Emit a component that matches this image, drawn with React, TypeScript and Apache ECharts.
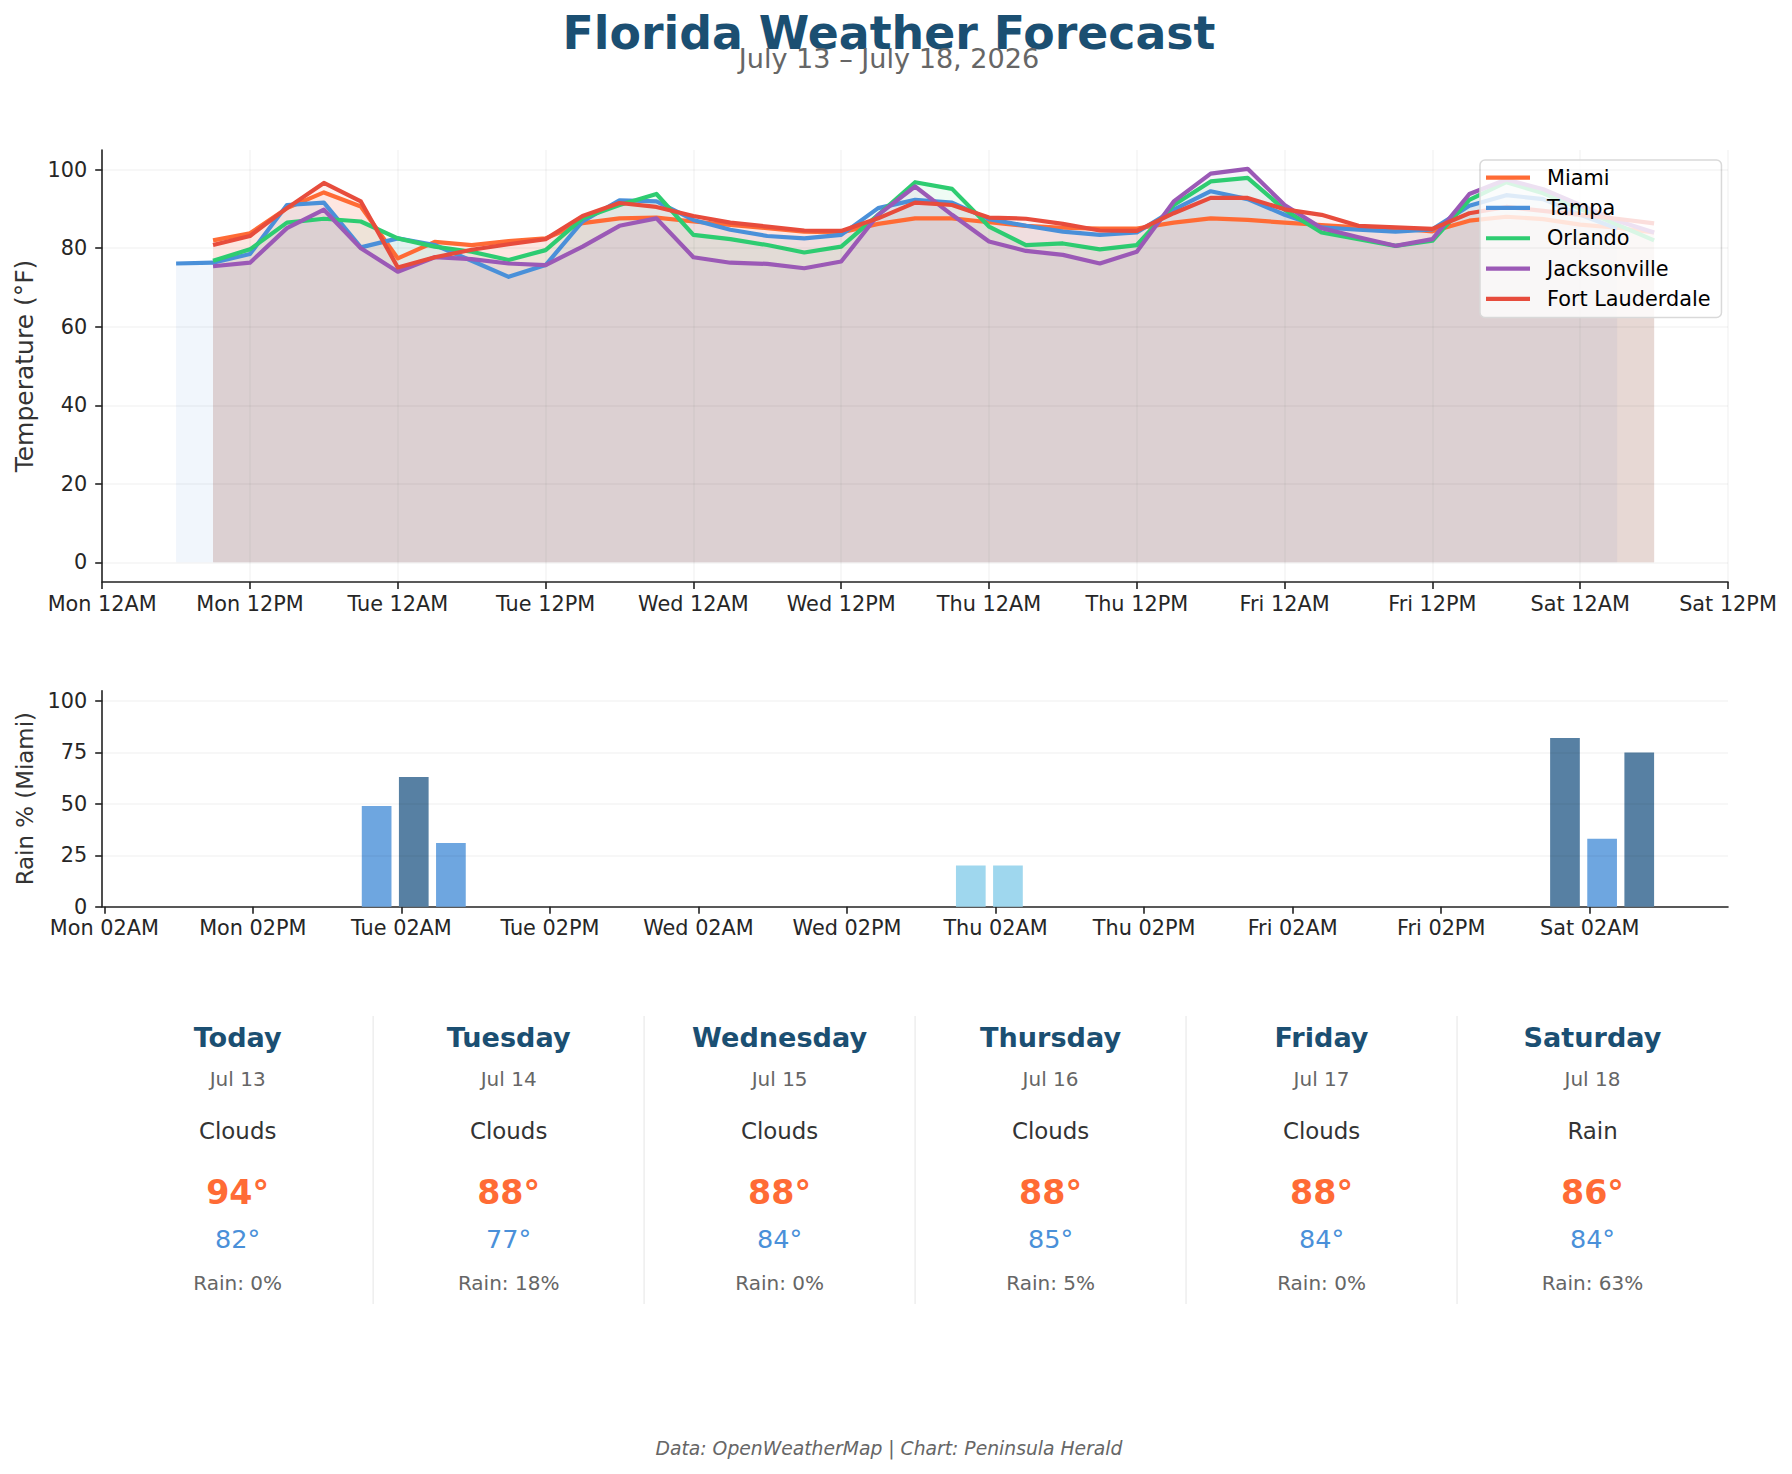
import { useEffect, useRef } from 'react';
import * as echarts from 'echarts';

const FONT = 'DejaVu Sans';

// Hours counted from Monday 12AM, 3-hour forecast steps
const cityHours = [
  9, 12, 15, 18, 21, 24, 27, 30, 33, 36, 39, 42, 45, 48, 51, 54, 57, 60, 63, 66,
  69, 72, 75, 78, 81, 84, 87, 90, 93, 96, 99, 102, 105, 108, 111, 114, 117, 120, 123, 126,
];
const tampaHours = [
  6, 9, 12, 15, 18, 21, 24, 27, 30, 33, 36, 39, 42, 45, 48, 51, 54, 57, 60, 63,
  66, 69, 72, 75, 78, 81, 84, 87, 90, 93, 96, 99, 102, 105, 108, 111, 114, 117, 120, 123,
];

const miamiTemps = [
  82.0, 83.8, 90.2, 94.2, 90.6, 77.4, 81.6, 80.8, 81.8, 82.5,
  86.4, 87.6, 87.8, 86.8, 85.9, 85.1, 84.2, 84.0, 86.2, 87.6,
  87.6, 86.6, 85.7, 85.2, 85.0, 85.0, 86.5, 87.6, 87.2, 86.5,
  85.9, 85.3, 85.1, 84.3, 87.0, 88.0, 87.4, 86.0, 85.2, 84.0,
];
const tampaTemps = [
  76.1, 76.3, 78.5, 91.0, 91.6, 80.2, 82.5, 80.8, 76.8, 72.7,
  75.7, 86.8, 92.2, 91.9, 87.2, 84.7, 83.1, 82.5, 83.4, 90.2,
  92.3, 91.6, 87.4, 85.7, 84.2, 83.4, 84.0, 89.8, 94.5, 92.5,
  88.5, 85.3, 84.7, 84.2, 84.8, 90.8, 93.5, 92.5, 88.5, 85.0,
];
const orlandoTemps = [
  76.8, 79.7, 86.5, 87.5, 86.8, 82.5, 80.4, 79.1, 77.0, 79.5,
  87.6, 91.0, 93.8, 83.4, 82.3, 80.8, 78.9, 80.4, 88.5, 96.8,
  95.1, 85.5, 80.8, 81.2, 79.7, 80.8, 91.0, 97.0, 97.9, 89.8,
  84.0, 82.3, 80.6, 81.9, 92.3, 96.8, 94.0, 90.0, 86.0, 82.0,
];
const jacksonvilleTemps = [
  75.4, 76.3, 85.1, 89.8, 80.0, 74.0, 77.7, 77.2, 76.1, 75.7,
  80.4, 85.7, 87.6, 77.7, 76.3, 76.0, 74.9, 76.6, 88.5, 95.7,
  88.5, 81.7, 79.3, 78.3, 76.1, 79.1, 91.9, 99.0, 100.2, 91.0,
  85.1, 82.8, 80.6, 82.3, 93.8, 97.5, 95.0, 91.0, 87.0, 84.0,
];
const fortLauderdaleTemps = [
  80.8, 83.1, 90.2, 96.6, 91.9, 75.1, 77.7, 79.6, 81.0, 82.3,
  88.2, 91.5, 90.5, 88.2, 86.5, 85.5, 84.5, 84.4, 87.6, 91.6,
  91.0, 87.8, 87.5, 86.2, 84.5, 84.4, 88.9, 92.8, 92.8, 89.9,
  88.5, 85.7, 85.3, 84.9, 88.9, 90.5, 89.5, 88.5, 87.5, 86.3,
];

// Miami precipitation probability (%) at the same 3-hour steps
const miamiRain = [
  0, 0, 0, 0, 0, 49, 63, 31, 0, 0,
  0, 0, 0, 0, 0, 0, 0, 0, 0, 0,
  0, 20, 20, 0, 0, 0, 0, 0, 0, 0,
  0, 0, 0, 0, 0, 0, 0, 82, 33, 75,
];

const cityNames = ['Miami', 'Tampa', 'Orlando', 'Jacksonville', 'Fort Lauderdale'];
const cityColors = ['#FF6B35', '#4A90D9', '#2ECC71', '#9B59B6', '#E74C3C'];
const citySeries = [
  { hours: cityHours, temps: miamiTemps },
  { hours: tampaHours, temps: tampaTemps },
  { hours: cityHours, temps: orlandoTemps },
  { hours: cityHours, temps: jacksonvilleTemps },
  { hours: cityHours, temps: fortLauderdaleTemps },
];

const tempTickHours = [0, 12, 24, 36, 48, 60, 72, 84, 96, 108, 120, 132];
const tempTickLabels = [
  'Mon 12AM', 'Mon 12PM', 'Tue 12AM', 'Tue 12PM', 'Wed 12AM', 'Wed 12PM',
  'Thu 12AM', 'Thu 12PM', 'Fri 12AM', 'Fri 12PM', 'Sat 12AM', 'Sat 12PM',
];
const tempYTicks = [0, 20, 40, 60, 80, 100];

const rainTickHours = [2, 14, 26, 38, 50, 62, 74, 86, 98, 110, 122];
const rainTickLabels = [
  'Mon 02AM', 'Mon 02PM', 'Tue 02AM', 'Tue 02PM', 'Wed 02AM', 'Wed 02PM',
  'Thu 02AM', 'Thu 02PM', 'Fri 02AM', 'Fri 02PM', 'Sat 02AM',
];
const rainYTicks = [0, 25, 50, 75, 100];

const dayNames = ['Today', 'Tuesday', 'Wednesday', 'Thursday', 'Friday', 'Saturday'];
const dayDates = ['Jul 13', 'Jul 14', 'Jul 15', 'Jul 16', 'Jul 17', 'Jul 18'];
const dayConditions = ['Clouds', 'Clouds', 'Clouds', 'Clouds', 'Clouds', 'Rain'];

const NAVY = '#1B4F72';
const AXIS = '#222222';
const TICK_TEXT = '#262626';
const GRID_LINE = 'rgba(0,0,0,0.045)';
const FILL_OPACITY = 0.08;

// Plot frames (px)
const PLOT_LEFT = 102.2;
const PLOT_WIDTH = 1625.8;
const TEMP_TOP = 150;
const TEMP_HEIGHT = 432;
const RAIN_TOP = 690.7;
const RAIN_HEIGHT = 216;
const BAR_HALF_SPAN = 1.2; // bar half width in hours
const RAIN_MARGIN = 0.05;

const rainColor = (v: number) => (v >= 60 ? '#5780a3' : v >= 30 ? '#6ea6e0' : '#9fd7ee');

// Daily Miami summary derived from the hourly series
function dailySummary() {
  const out: { high: number; low: number; rain: number }[] = [];
  for (let d = 0; d < dayNames.length; d++) {
    const temps: number[] = [];
    const rains: number[] = [];
    cityHours.forEach((h, i) => {
      if (Math.floor(h / 24) === d) {
        temps.push(miamiTemps[i]);
        rains.push(miamiRain[i]);
      }
    });
    const rainAvg = rains.reduce((a, b) => a + b, 0) / Math.max(rains.length, 1);
    out.push({
      high: Math.round(Math.max(...temps)),
      low: Math.round(Math.min(...temps)),
      rain: Math.round(rainAvg),
    });
  }
  return out;
}

function buildOption() {
  const axisLineStyle = { color: AXIS, width: 1.6 };
  const tickLabel = { fontSize: 20.8, color: TICK_TEXT, fontFamily: FONT };

  const rainFirst = cityHours[0] - BAR_HALF_SPAN;
  const rainLast = cityHours[cityHours.length - 1] + BAR_HALF_SPAN;
  const rainPad = (rainLast - rainFirst) * RAIN_MARGIN;

  const lineSeries = cityNames.map((name, idx) => {
    const s = citySeries[idx];
    const series: any = {
      name,
      type: 'line',
      xAxisIndex: 0,
      yAxisIndex: 0,
      data: s.hours.map((h, i) => [h, s.temps[i]]),
      showSymbol: false,
      symbol: 'none',
      color: cityColors[idx],
      lineStyle: { color: cityColors[idx], width: 4.2, join: 'round' },
      areaStyle: { color: cityColors[idx], opacity: FILL_OPACITY, origin: 'auto' },
      emphasis: { disabled: true },
      z: 3,
    };
    if (idx === 0) {
      series.markLine = {
        silent: true,
        symbol: ['none', 'none'],
        label: { show: false },
        lineStyle: { color: GRID_LINE, width: 1.6, type: 'solid' },
        data: tempYTicks.map((v) => ({ yAxis: v })),
      };
    }
    return series;
  });

  const summary = dailySummary();
  const colW = PLOT_WIDTH / dayNames.length;
  const graphics: any[] = [
    {
      type: 'text', x: 889, y: 33,
      style: { text: 'Florida Weather Forecast', fill: NAVY, fontSize: 45.8, fontWeight: 'bold', fontFamily: FONT, align: 'center', verticalAlign: 'middle' },
    },
    {
      type: 'text', x: 889, y: 58,
      style: { text: 'July 13 – July 18, 2026', fill: '#666666', fontSize: 27.1, fontFamily: FONT, align: 'center', verticalAlign: 'middle' },
    },
    {
      type: 'text', x: 889, y: 1448,
      style: { text: 'Data: OpenWeatherMap | Chart: Peninsula Herald', fill: '#666666', fontSize: 18.75, fontStyle: 'italic', fontFamily: FONT, align: 'center', verticalAlign: 'middle' },
    },
  ];
  for (let k = 1; k < dayNames.length; k++) {
    const x = PLOT_LEFT + colW * k;
    graphics.push({
      type: 'line',
      shape: { x1: x, y1: 1016, x2: x, y2: 1304 },
      style: { stroke: '#eeeeee', lineWidth: 1.5 },
    });
  }
  dayNames.forEach((name, i) => {
    const cx = PLOT_LEFT + colW * (i + 0.5);
    const rows = [
      { text: name, y: 1037, size: 27.1, color: NAVY, weight: 'bold' },
      { text: dayDates[i], y: 1078.5, size: 20, color: '#666666', weight: 'normal' },
      { text: dayConditions[i], y: 1130.5, size: 22.9, color: '#333333', weight: 'normal' },
      { text: `${summary[i].high}°`, y: 1192.5, size: 33.3, color: '#FF6B35', weight: 'bold' },
      { text: `${summary[i].low}°`, y: 1239, size: 25.5, color: '#4A90D9', weight: 'normal' },
      { text: `Rain: ${summary[i].rain}%`, y: 1283, size: 20, color: '#666666', weight: 'normal' },
    ];
    rows.forEach((r) => {
      graphics.push({
        type: 'text', x: cx, y: r.y,
        style: { text: r.text, fill: r.color, fontSize: r.size, fontWeight: r.weight, fontFamily: FONT, align: 'center', verticalAlign: 'middle' },
      });
    });
  });

  return {
    animation: false,
    backgroundColor: '#ffffff',
    textStyle: { fontFamily: FONT },
    grid: [
      { left: PLOT_LEFT, top: TEMP_TOP, width: PLOT_WIDTH, height: TEMP_HEIGHT, containLabel: false, outerBoundsMode: 'none' },
      { left: PLOT_LEFT, top: RAIN_TOP, width: PLOT_WIDTH, height: RAIN_HEIGHT, containLabel: false, outerBoundsMode: 'none' },
    ],
    legend: {
      data: cityNames,
      orient: 'vertical',
      left: 1480,
      top: 160,
      padding: [6, 11, 7, 6],
      itemGap: 7,
      itemWidth: 44,
      itemHeight: 4.2,
      icon: 'rect',
      backgroundColor: 'rgba(255,255,255,0.82)',
      borderColor: '#d9d9d9',
      borderWidth: 1.5,
      borderRadius: 5,
      selectedMode: false,
      textStyle: { fontSize: 20.8, color: '#000000', fontFamily: FONT, lineHeight: 23.3, padding: [0, 0, 0, 12] },
    },
    xAxis: [
      {
        type: 'value', gridIndex: 0, min: 0, max: 132, interval: 12,
        axisLine: { show: true, onZero: false, lineStyle: axisLineStyle },
        axisTick: { show: true, length: 7, lineStyle: axisLineStyle },
        axisLabel: {
          ...tickLabel, margin: 11, showMinLabel: true, showMaxLabel: true,
          formatter: (v: number) => tempTickLabels[tempTickHours.indexOf(v)] ?? '',
        },
        splitLine: { show: true, lineStyle: { color: GRID_LINE, width: 1.6 } },
      },
      {
        type: 'value', gridIndex: 1, min: rainFirst - rainPad, max: rainLast + rainPad,
        axisLine: { show: true, onZero: false, lineStyle: axisLineStyle },
        axisTick: { show: true, length: 7, lineStyle: axisLineStyle, customValues: rainTickHours },
        axisLabel: {
          ...tickLabel, margin: 11, customValues: rainTickHours,
          formatter: (v: number) => rainTickLabels[rainTickHours.indexOf(v)] ?? '',
        },
        splitLine: { show: false },
      },
    ],
    yAxis: [
      {
        type: 'value', gridIndex: 0, min: -5, max: 105,
        name: 'Temperature (°F)', nameLocation: 'middle', nameGap: 64,
        nameTextStyle: { fontSize: 25, color: '#333333', fontFamily: FONT },
        axisLine: { show: true, onZero: false, lineStyle: axisLineStyle },
        axisTick: { show: true, length: 7, lineStyle: axisLineStyle, customValues: tempYTicks },
        axisLabel: { ...tickLabel, margin: 15, customValues: tempYTicks },
        splitLine: { show: false },
      },
      {
        type: 'value', gridIndex: 1, min: 0, max: 105,
        name: 'Rain % (Miami)', nameLocation: 'middle', nameGap: 63,
        nameTextStyle: { fontSize: 22.9, color: '#333333', fontFamily: FONT },
        axisLine: { show: true, onZero: false, lineStyle: axisLineStyle },
        axisTick: { show: true, length: 7, lineStyle: axisLineStyle, customValues: rainYTicks },
        axisLabel: { ...tickLabel, margin: 15, customValues: rainYTicks },
        splitLine: { show: false },
      },
    ],
    series: [
      ...lineSeries,
      {
        name: 'Rain',
        type: 'bar',
        xAxisIndex: 1,
        yAxisIndex: 1,
        data: cityHours.map((h, i) => [h, miamiRain[i]]),
        barWidth: 29.7,
        itemStyle: { color: (p: any) => rainColor(p.value[1]) },
        emphasis: { disabled: true },
        markLine: {
          silent: true,
          symbol: ['none', 'none'],
          label: { show: false },
          lineStyle: { color: GRID_LINE, width: 1.6, type: 'solid' },
          data: rainYTicks.filter((v) => v > 0).map((v) => ({ yAxis: v })),
        },
      },
    ],
    graphic: { elements: graphics },
  };
}

export default function App() {
  const ref = useRef<HTMLDivElement>(null);
  useEffect(() => {
    if (!ref.current) return;
    const chart = echarts.init(ref.current, undefined, { renderer: 'svg' });
    chart.setOption(buildOption() as any);
    return () => chart.dispose();
  }, []);
  return (
    <div
      ref={ref}
      style={{ position: 'absolute', left: 0, top: 0, width: 1792, height: 1474, background: '#fff' }}
    />
  );
}
